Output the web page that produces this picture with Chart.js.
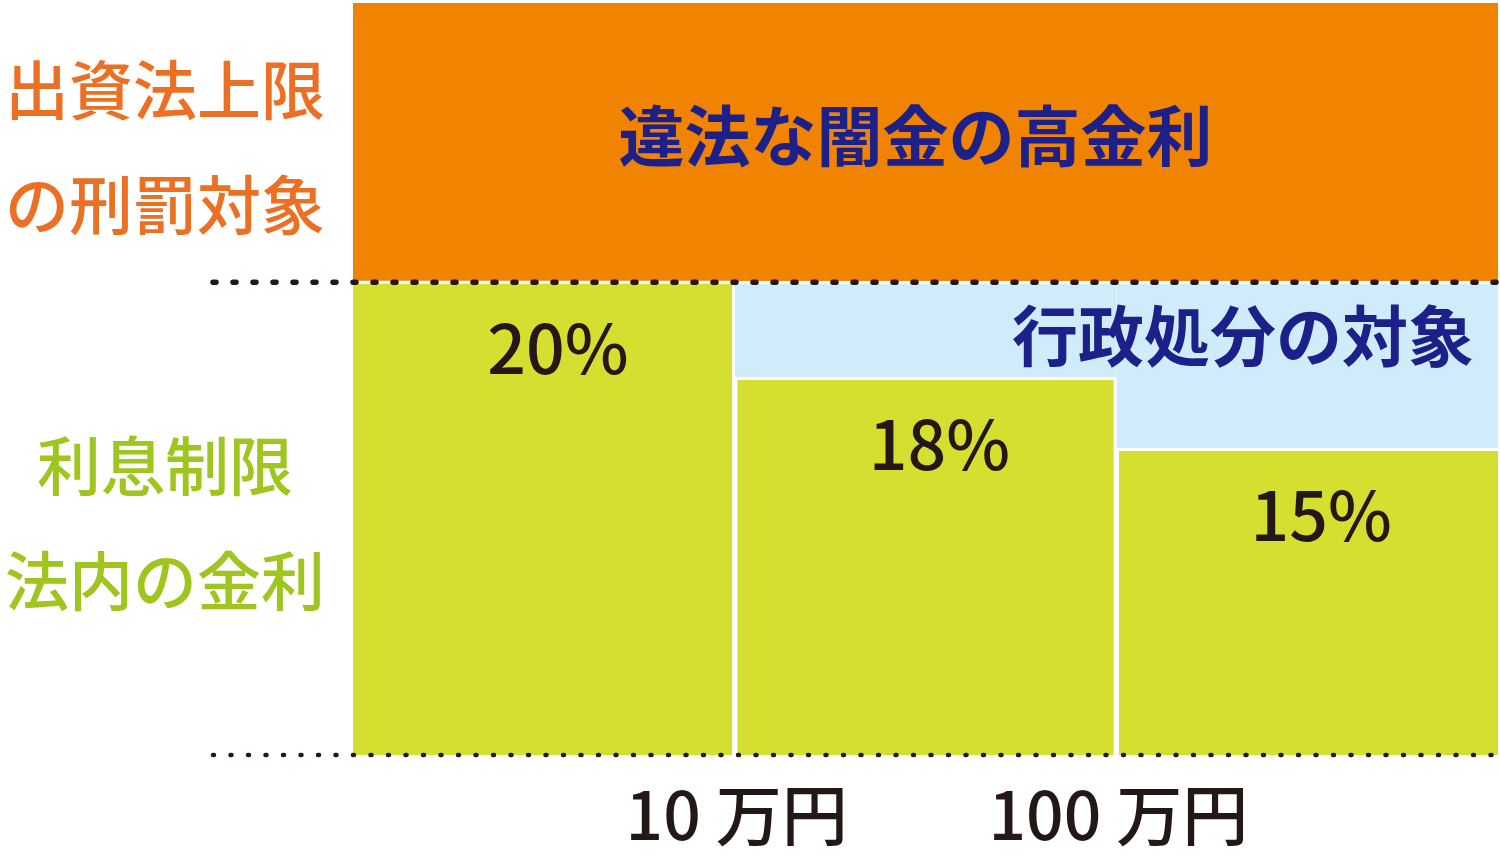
<!DOCTYPE html>
<html lang="ja">
<head>
<meta charset="utf-8">
<title>金利の上限</title>
<script src="https://cdn.jsdelivr.net/npm/chart.js@4/dist/chart.umd.min.js"></script>
<style>
  body { margin: 0; background: #fff; }
  #wrap { width: 1500px; height: 865px; position: relative; }
</style>
</head>
<body>
<div id="wrap"><canvas id="rate-chart"></canvas></div>
<script>
// 区分（貸付額）
var categories = ["〜10万円", "10万円〜100万円", "100万円〜"];
// 図の上での高さ（模式図なので実際の%とは比例しない）
var legalHeights = [20, 15.94, 12.94];      // 利息制限法内（緑）
var adminHeights = [0, 4.06, 7.06];         // 行政処分の対象（水色）
var illegalHeights = [11.8, 11.8, 11.8];    // 出資法上限の刑罰対象（オレンジ）
var rateLabels = ["20%", "18%", "15%"];
var xTickLabels = ["10 万円", "100 万円"];
var upperSideLabel = ["出資法上限", "の刑罰対象"];
var lowerSideLabel = ["利息制限", "法内の金利"];
var illegalTitle = "違法な闇金の高金利";
var adminTitle = "行政処分の対象";
var yMax = 31.74;

var FONT = '"Noto Sans CJK JP", "Noto Sans", sans-serif';

// 点線・文字はプラグインで描く
var textPlugin = {
  id: 'textPlugin',
  afterDatasetsDraw: function(chart) {
    var ctx = chart.ctx;
    var x = chart.scales.x;
    var y = chart.scales.y;
    var area = chart.chartArea;
    var y20 = y.getPixelForValue(20);
    var y0 = y.getPixelForValue(0);

    ctx.save();

    // 点線
    ctx.strokeStyle = '#231815';
    ctx.lineCap = 'round';
    ctx.lineWidth = 5.5;
    ctx.setLineDash([3, 17]);
    ctx.beginPath();
    ctx.moveTo(213, y20 + 1);
    ctx.lineTo(area.right, y20 + 1);
    ctx.stroke();

    ctx.lineWidth = 4.5;
    ctx.setLineDash([1, 16.5]);
    ctx.beginPath();
    ctx.moveTo(213, y0);
    ctx.lineTo(area.right, y0);
    ctx.stroke();
    ctx.setLineDash([]);

    ctx.textBaseline = 'middle';

    // オレンジ部分のタイトル
    ctx.fillStyle = '#1d2088';
    ctx.font = '700 66px ' + FONT;
    ctx.textAlign = 'center';
    ctx.fillText(illegalTitle, (area.left + area.right) / 2 - 10, (y.getPixelForValue(yMax) + y20) / 2 - 6);

    // 水色部分のタイトル
    ctx.textAlign = 'right';
    ctx.fillText(adminTitle, area.right - 24, y20 + 55);

    // 各棒の%
    ctx.fillStyle = '#231815';
    ctx.font = '500 68px ' + FONT;
    ctx.textAlign = 'center';
    rateLabels.forEach(function(label, i) {
      ctx.fillText(label, x.getPixelForValue(i) + 14, y.getPixelForValue(legalHeights[i]) + 67);
    });

    // 下の目盛り（区分の境目）
    ctx.font = '500 66px ' + FONT;
    xTickLabels.forEach(function(label, i) {
      var px = (x.getPixelForValue(i) + x.getPixelForValue(i + 1)) / 2;
      ctx.fillText(label, px + 2, y0 + 60);
    });

    // 左の説明
    ctx.font = '500 64px ' + FONT;
    ctx.fillStyle = '#ec7023';
    var midTop = (y.getPixelForValue(yMax) + y20) / 2;
    ctx.fillText(upperSideLabel[0], 165, midTop - 52);
    ctx.fillText(upperSideLabel[1], 165, midTop + 63);

    ctx.fillStyle = '#9fc51f';
    var midLow = (y20 + y0) / 2;
    ctx.fillText(lowerSideLabel[0], 165, midLow - 52);
    ctx.fillText(lowerSideLabel[1], 165, midLow + 63);

    ctx.restore();
  }
};

var whiteEdge = function(c) {
  return {
    top: 3,
    left: c.dataIndex > 0 ? 3 : 0,
    right: c.dataIndex < categories.length - 1 ? 3 : 0,
    bottom: 0
  };
};

new Chart(document.getElementById('rate-chart'), {
  type: 'bar',
  data: {
    labels: categories,
    datasets: [
      {
        label: '利息制限法内の金利',
        data: legalHeights,
        backgroundColor: '#d5df2f',
        borderColor: '#ffffff',
        borderWidth: whiteEdge,
        borderSkipped: false
      },
      {
        label: '行政処分の対象',
        data: adminHeights,
        backgroundColor: '#d0ebf9',
        borderColor: '#ffffff',
        borderWidth: { top: 3, left: 0, right: 0, bottom: 0 },
        borderSkipped: false
      },
      {
        label: '違法な闇金の高金利',
        data: illegalHeights,
        backgroundColor: '#f08300',
        borderWidth: 0
      }
    ]
  },
  options: {
    responsive: true,
    maintainAspectRatio: false,
    animation: false,
    layout: { padding: { left: 353, right: 2, top: 3, bottom: 110 } },
    datasets: { bar: { barPercentage: 1, categoryPercentage: 1 } },
    scales: {
      x: { stacked: true, display: false },
      y: { stacked: true, display: false, min: 0, max: yMax }
    },
    plugins: {
      legend: { display: false },
      tooltip: { enabled: false }
    }
  },
  plugins: [textPlugin]
});
</script>
</body>
</html>
